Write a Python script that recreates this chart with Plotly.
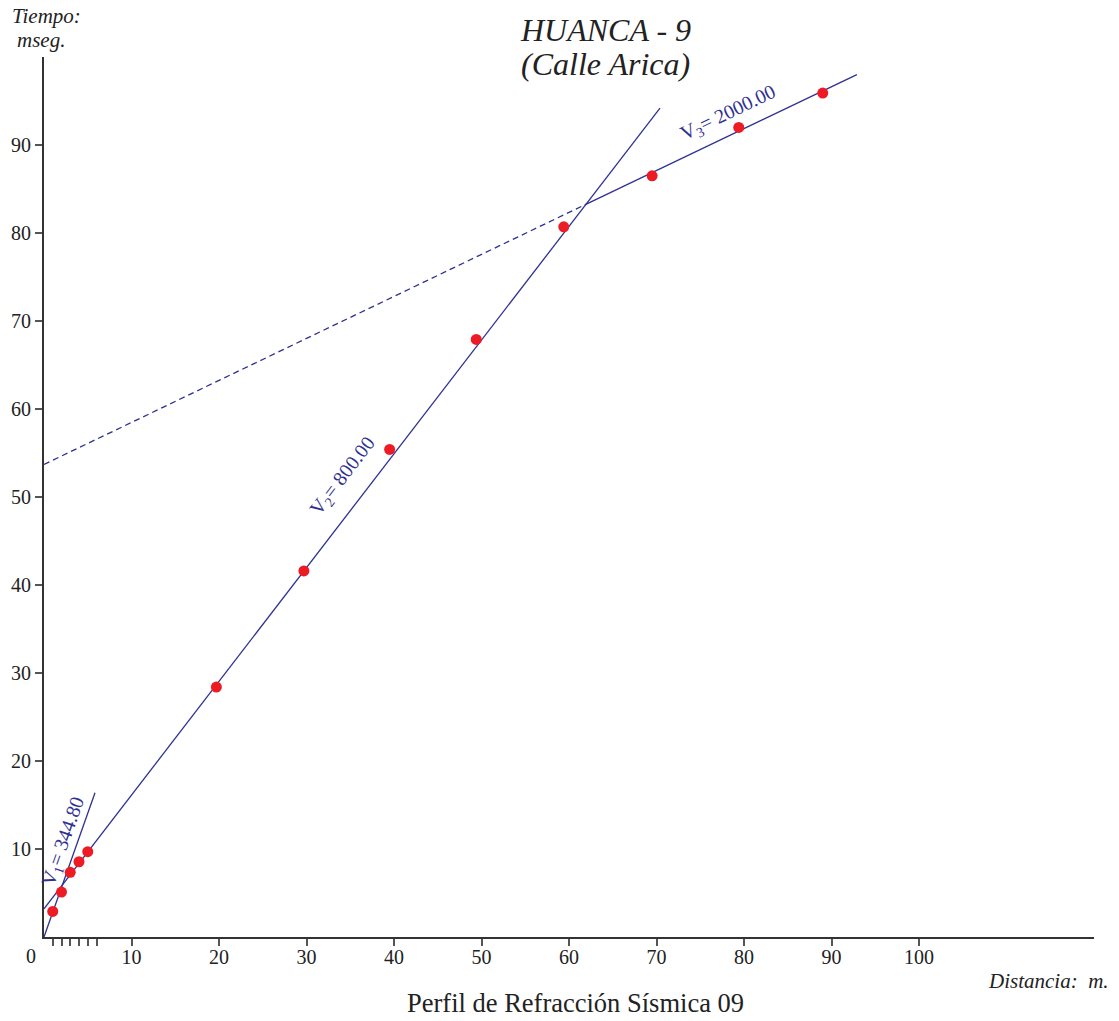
import plotly.graph_objects as go

# Observed first arrivals
dist = [1.0, 2.0, 3.0, 4.0, 5.0, 19.7, 29.7, 39.5, 49.4, 59.4, 69.5, 79.4, 89.0]
time = [2.9, 5.1, 7.35, 8.55, 9.7, 28.4, 41.6, 55.4, 67.9, 80.7, 86.5, 92.0, 95.9]

# Travel-time segments (end points)
v1_x = [0.0, 5.83]
v1_y = [0.0, 16.4]
v2_x = [0.0, 70.4]
v2_y = [3.2, 94.2]
v3_dash_x = [0.0, 61.8]
v3_dash_y = [53.7, 83.2]
v3_x = [61.8, 92.9]
v3_y = [83.2, 98.0]

x_tickvals = [1, 2, 3, 4, 5, 6, 10, 20, 30, 40, 50, 60, 70, 80, 90, 100]
x_ticktext = ["", "", "", "", "", "", "10", "20", "30", "40", "50", "60", "70", "80", "90", "100"]
y_tickvals = [10, 20, 30, 40, 50, 60, 70, 80, 90]

NAVY = "#2E3192"
RED = "#ED1C24"
SERIF = "Liberation Serif, Times New Roman, serif"
TXT = "#222"

L, R, T, B = 44, 25, 57, 84
W, H = 1119, 1021
PW = W - L - R
PH = H - T - B


def px(xp):
    return (xp - L) / PW


def py(yp):
    return (T + PH - yp) / PH


fig = go.Figure()
fig.add_trace(go.Scatter(x=v3_dash_x, y=v3_dash_y, mode="lines",
                         line=dict(color=NAVY, width=1.3, dash="6px,4px"), hoverinfo="skip"))
for xs, ys in [(v1_x, v1_y), (v2_x, v2_y), (v3_x, v3_y)]:
    fig.add_trace(go.Scatter(x=xs, y=ys, mode="lines",
                             line=dict(color=NAVY, width=1.3), hoverinfo="skip"))
fig.add_trace(go.Scatter(x=dist, y=time, mode="markers",
                         marker=dict(color=RED, size=11, line=dict(width=0))))

annos = [
    dict(x=78.2, y=93.6, text="V<sub>3</sub>= 2000.00", textangle=-25.6),
    dict(x=34.2, y=52.3, text="V<sub>2</sub>= 800.00", textangle=-52.4),
    dict(x=2.3, y=10.8, text="V<sub>1</sub>= 344.80", textangle=-70.5),
]
for a in annos:
    fig.add_annotation(x=a["x"], y=a["y"], xref="x", yref="y", text=a["text"],
                       textangle=a["textangle"], showarrow=False,
                       xanchor="center", yanchor="middle",
                       font=dict(family=SERIF, size=20, color=NAVY))

fig.add_annotation(x=0, y=0, xref="x", yref="y", text="0", showarrow=False,
                   xanchor="center", yanchor="middle",
                   xshift=-13, yshift=-19, font=dict(family=SERIF, size=20, color=TXT))

texts = [
    (605, 30, "<i>HUANCA - 9</i>", 32, "center"),
    (605, 64, "<i>(Calle Arica)</i>", 32, "center"),
    (46, 16, "<i>Tiempo:</i>", 21, "center"),
    (41, 40, "<i>mseg.</i>", 21, "center"),
    (1111, 981, "<i>Distancia:  m.</i>", 21, "right"),
    (575, 1003, "Perfil de Refracción Sísmica 09", 26.5, "center"),
]
for xp, yp, t, s, anc in texts:
    fig.add_annotation(x=px(xp), y=py(yp), xref="paper", yref="paper", text=t,
                       showarrow=False, xanchor=anc, yanchor="middle",
                       font=dict(family=SERIF, size=s, color=TXT))

fig.update_layout(
    width=W, height=H,
    margin=dict(l=L, r=R, t=T, b=B),
    paper_bgcolor="white", plot_bgcolor="white",
    showlegend=False,
    xaxis=dict(range=[0, 120], showgrid=False, zeroline=False,
               showline=True, linecolor="#333", linewidth=2,
               tickmode="array", tickvals=x_tickvals, ticktext=x_ticktext,
               ticks="outside", ticklen=7, tickcolor="#555", tickwidth=1.5,
               ticklabelstandoff=-6,
               tickfont=dict(family=SERIF, size=20, color=TXT)),
    yaxis=dict(range=[0, 100], showgrid=False, zeroline=False,
               showline=True, linecolor="#333", linewidth=2,
               tickmode="array", tickvals=y_tickvals,
               ticks="outside", ticklen=7, tickcolor="#555", tickwidth=1.5,
               tickfont=dict(family=SERIF, size=20, color=TXT)),
)

fig.write_html("out.html",
               config={"displayModeBar": False},
               post_script="document.body.style.margin='0';document.body.style.overflow='hidden';")
